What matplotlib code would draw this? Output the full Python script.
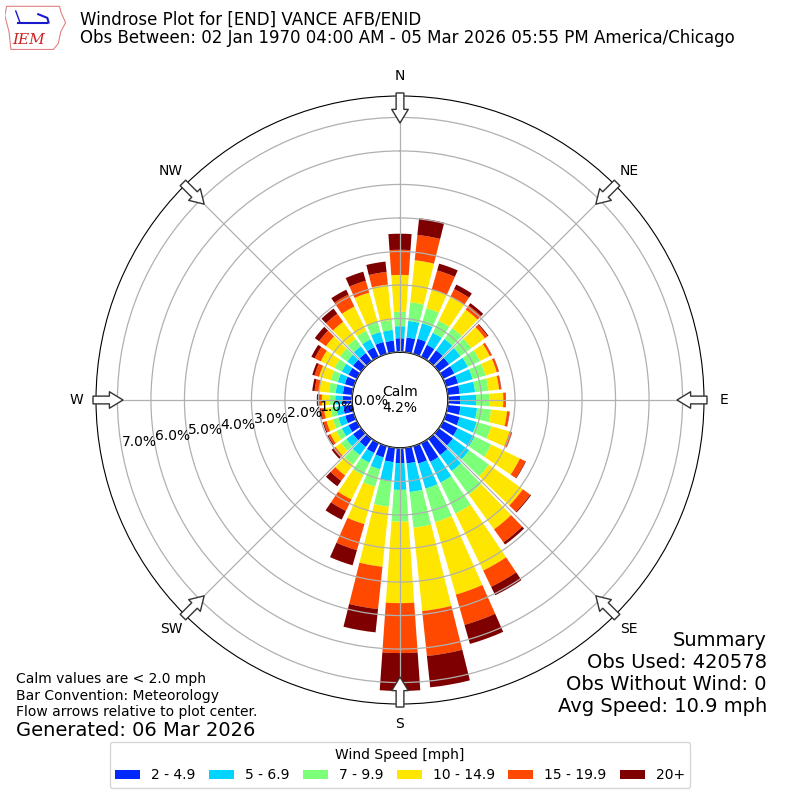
import numpy as np
import matplotlib
matplotlib.use("Agg")
import matplotlib.pyplot as plt
from matplotlib.patches import Polygon

# ---------------- data ----------------
directions = np.arange(0, 360, 10)  # degrees, meteorological
speed_labels = ["2 - 4.9", "5 - 6.9", "7 - 9.9", "10 - 14.9", "15 - 19.9", "20+"]
colors = ["#0028ff", "#00d4ff", "#7cff79", "#ffe600", "#ff4800", "#7f0000"]

# cumulative frequency [%] up to the top of each speed bin, per direction
cum_lt5 = [0.41, 0.44, 0.47, 0.40, 0.40, 0.38, 0.37, 0.37, 0.36, 0.36, 0.38, 0.42,
           0.48, 0.52, 0.60, 0.62, 0.54, 0.47, 0.45, 0.43, 0.35, 0.33, 0.30, 0.30,
           0.28, 0.27, 0.27, 0.28, 0.28, 0.28, 0.28, 0.30, 0.30, 0.32, 0.37, 0.35]
cum_lt7 = [0.77, 0.94, 0.95, 0.80, 0.82, 0.80, 0.82, 0.82, 0.82, 0.84, 0.88, 0.95,
           1.05, 1.12, 1.19, 1.31, 1.32, 1.33, 1.25, 1.00, 0.72, 0.65, 0.60, 0.55,
           0.50, 0.48, 0.48, 0.50, 0.50, 0.50, 0.50, 0.52, 0.55, 0.58, 0.68, 0.67]
cum_lt10 = [1.20, 1.50, 1.42, 1.20, 1.22, 1.20, 1.22, 1.22, 1.22, 1.23, 1.30, 1.40,
            1.60, 1.85, 2.06, 2.34, 2.36, 2.40, 2.20, 1.77, 1.26, 1.07, 0.95, 0.75,
            0.68, 0.65, 0.65, 0.68, 0.70, 0.72, 0.74, 0.78, 0.82, 0.87, 1.00, 0.97]
cum_lt15 = [2.30, 2.76, 2.00, 2.00, 1.90, 1.70, 1.55, 1.57, 1.54, 1.65, 1.78, 1.97,
            2.55, 3.10, 3.34, 4.23, 4.61, 4.90, 4.63, 3.57, 2.42, 1.87, 1.35, 0.95,
            0.88, 0.85, 0.85, 0.90, 1.00, 1.08, 1.20, 1.30, 1.45, 1.67, 1.90, 2.03]
cum_lt20 = [3.05, 3.52, 2.59, 2.25, 2.05, 1.80, 1.61, 1.63, 1.60, 1.72, 1.85, 2.04,
            2.73, 3.37, 3.82, 4.77, 5.55, 6.25, 6.12, 4.84, 3.23, 2.25, 1.55, 1.03,
            0.95, 0.94, 0.94, 1.00, 1.13, 1.22, 1.40, 1.55, 1.75, 2.07, 2.27, 2.41]
cum_all = [3.53, 4.02, 2.80, 2.40, 2.14, 1.83, 1.62, 1.64, 1.61, 1.73, 1.86, 2.05,
           2.75, 3.40, 3.90, 5.05, 6.14, 7.19, 7.25, 5.54, 3.70, 2.54, 1.75, 1.09,
           0.98, 0.97, 0.97, 1.05, 1.20, 1.29, 1.51, 1.71, 1.94, 2.23, 2.55, 2.72]

radial_ticks = [0, 1, 2, 3, 4, 5, 6, 7]
compass_labels = ["N", "NE", "E", "SE", "S", "SW", "W", "NW"]
calm_pct = 4.2

# ---------------- figure ----------------
fig = plt.figure(figsize=(8, 8), dpi=100)
ax = fig.add_axes([0.12, 0.12, 0.76, 0.76], projection="polar")
ax.set_theta_zero_location("N")
ax.set_theta_direction(-1)

RMAX = 7.64
R0 = -1.433
ax.set_rorigin(R0)
ax.set_ylim(0, RMAX)

theta = np.deg2rad(directions)
width = np.deg2rad(8.0)
cums = [np.zeros(len(directions)), cum_lt5, cum_lt7, cum_lt10, cum_lt15, cum_lt20, cum_all]
cums = [np.asarray(c, dtype=float) for c in cums]
for i in range(6):
    ax.bar(theta, cums[i + 1] - cums[i], width=width, bottom=cums[i],
           color=colors[i], label=speed_labels[i], linewidth=0, zorder=2)

ax.set_axisbelow(False)
ax.set_yticks(radial_ticks)
ax.set_yticklabels([f"{v:.1f}%" for v in radial_ticks], fontsize=10)
ax.set_rlabel_position(260)
ax.set_xticks(np.deg2rad(np.arange(0, 360, 45)))
ax.set_xticklabels([])
ax.grid(True, color="#b0b0b0", lw=0.9, zorder=3)
ax.spines["polar"].set_color("black")
ax.spines["inner"].set_visible(True)
ax.spines["inner"].set_color("black")
ax.spines["inner"].set_linewidth(1.2)

# compass labels and arrows
r_lab = R0 + 324 / 304 * (RMAX - R0)
r_tail = R0 + 307 / 304 * (RMAX - R0)
r_tip = R0 + 277 / 304 * (RMAX - R0)
for k, lab in enumerate(compass_labels):
    th = np.deg2rad(45 * k)
    ax.text(th, r_lab, lab, ha="center", va="center", fontsize=10, clip_on=False)
    ax.annotate("", xy=(th, r_tip), xytext=(th, r_tail),
                arrowprops=dict(arrowstyle="simple,head_length=0.7,head_width=0.85,tail_width=0.4",
                                fc="white", ec="#333333", lw=1, shrinkA=0, shrinkB=0,
                                mutation_scale=14),
                annotation_clip=False, zorder=5)

ax.text(0, R0, f"Calm\n{calm_pct:.1f}%", ha="center", va="center", fontsize=10, zorder=6)

# titles
fig.text(0.1, 1 - 20 / 800, "Windrose Plot for [END] VANCE AFB/ENID", fontsize=12,
         va="center", ha="left")
fig.text(0.1, 1 - 38 / 800,
         "Obs Between: 02 Jan 1970 04:00 AM - 05 Mar 2026 05:55 PM America/Chicago",
         fontsize=12, va="center", ha="left")

# logo (simple approximation)
lax = fig.add_axes([0.006, 0.937, 0.076, 0.058])
lax.set_xlim(0, 1)
lax.set_ylim(0, 1)
lax.axis("off")
iowa = [(0.03, 0.95), (0.9, 0.95), (0.93, 0.8), (1.0, 0.6), (0.92, 0.4), (0.88, 0.15),
        (0.8, 0.02), (0.1, 0.02), (0.07, 0.4), (0.0, 0.75)]
lax.add_patch(Polygon(iowa, closed=True, fill=False, ec="#e08080", lw=0.8))
lax.plot([0.22, 0.7], [0.6, 0.6], color="#1a1acc", lw=1.5)
lax.plot([0.55, 0.7, 0.72], [0.78, 0.7, 0.6], color="#1a1acc", lw=1.5)
lax.plot([0.25, 0.18], [0.6, 0.85], color="#1a1acc", lw=1)
lax.text(0.12, 0.22, "IEM", color="#cc2222", fontsize=11, family="DejaVu Serif",
         style="italic", va="center", ha="left")

# bottom-left notes
fig.text(16 / 800, 1 - 679 / 800, "Calm values are < 2.0 mph", fontsize=10, va="center")
fig.text(16 / 800, 1 - 696 / 800, "Bar Convention: Meteorology", fontsize=10, va="center")
fig.text(16 / 800, 1 - 712 / 800, "Flow arrows relative to plot center.", fontsize=10, va="center")
fig.text(16 / 800, 1 - 730 / 800, "Generated: 06 Mar 2026", fontsize=14, va="center")

# summary
for txt, y in [("Summary", 640), ("Obs Used: 420578", 662),
               ("Obs Without Wind: 0", 684), ("Avg Speed: 10.9 mph", 706)]:
    fig.text(767 / 800, 1 - y / 800, txt, fontsize=14, ha="right", va="center")

leg = fig.legend(loc="center", bbox_to_anchor=(0.5, 1 - 765 / 800), ncol=6,
                 title="Wind Speed [mph]", fontsize=10, title_fontsize=10,
                 frameon=True, handlelength=1.8, columnspacing=0.95)

fig.savefig("out.png", dpi=100)
